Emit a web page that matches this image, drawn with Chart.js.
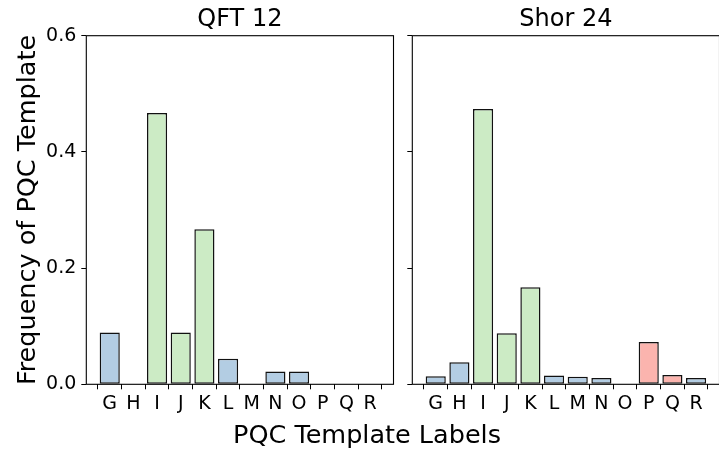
<!DOCTYPE html>
<html>
<head>
<meta charset="utf-8">
<script src="https://cdn.jsdelivr.net/npm/chart.js@4.4.1/dist/chart.umd.min.js"></script>
<style>
  html, body { margin: 0; padding: 0; background: #fff; }
  body { width: 719px; height: 455px; overflow: hidden; position: relative; font-family: 'DejaVu Sans', sans-serif; }
  #qftPanel { position: absolute; left: 0; top: 0; }
  #shorPanel { position: absolute; left: 400px; top: 0; }
  #xlabel { position: absolute; left: 367px; top: 421.5px; transform: translateX(-50%);
            font-size: 25.5px; line-height: 25.5px; white-space: nowrap; color: #000; }
</style>
</head>
<body>
<canvas id="qftPanel" width="400" height="455"></canvas>
<canvas id="shorPanel" width="320" height="455"></canvas>
<div id="xlabel">PQC Template Labels</div>
<script>
// PQC template categories and the colour family of each template
const templateLabels = ['G', 'H', 'I', 'J', 'K', 'L', 'M', 'N', 'O', 'P', 'Q', 'R'];
const templateFamily = ['blue', 'blue', 'green', 'green', 'green', 'blue', 'blue', 'blue', 'blue', 'red', 'red', 'blue'];

// Frequency of each template per benchmark circuit
const qft12Freq  = [0.089, 0, 0.467, 0.089, 0.267, 0.044, 0, 0.022, 0.022, 0, 0, 0];
const shor24Freq = [0.014, 0.038, 0.474, 0.088, 0.167, 0.015, 0.013, 0.011, 0, 0.073, 0.016, 0.011];

// Shared y axis ticks
const yTicks = [0, 0.2, 0.4, 0.6];

const familyColors = { blue: '#b3cde3', green: '#ccebc5', red: '#fbb4ae' };

Chart.defaults.font.family = "'DejaVu Sans', sans-serif";
Chart.defaults.color = '#000';

// Full box outline around each plot area
const frameBox = {
  id: 'frameBox',
  afterDraw(chart) {
    const { ctx, chartArea: a } = chart;
    ctx.save();
    ctx.strokeStyle = '#000';
    ctx.lineWidth = 1.1;
    ctx.strokeRect(a.left, a.top, a.right - a.left, a.bottom - a.top);
    ctx.restore();
  }
};

function makePanel(canvasId, title, values, cfg) {
  const n = templateLabels.length;
  return new Chart(document.getElementById(canvasId), {
    type: 'bar',
    data: {
      datasets: [{
        data: values.map((y, i) => ({ x: i, y })),
        backgroundColor: templateFamily.map(f => familyColors[f]),
        borderColor: '#111',
        borderWidth: 1.5,
        borderSkipped: false,
        barPercentage: 0.85,
        categoryPercentage: 1.0
      }]
    },
    options: {
      responsive: false,
      animation: false,
      devicePixelRatio: 1,
      events: [],
      layout: { padding: { top: 5, left: 0, right: cfg.padRight, bottom: 0 } },
      plugins: {
        legend: { display: false },
        tooltip: { enabled: false },
        title: {
          display: true,
          text: title,
          fullSize: false,
          color: '#000',
          font: { size: 24, weight: 'normal' },
          padding: { top: 0, bottom: 1.9 }
        }
      },
      scales: {
        x: {
          type: 'linear',
          offset: false,
          min: -0.99,
          max: n - 1 + 0.99,
          afterBuildTicks(scale) { scale.ticks = templateLabels.map((_, i) => ({ value: i })); },
          afterFit(scale) { scale.height = 70.7; },
          ticks: {
            autoSkip: false, maxRotation: 0, minRotation: 0,
            padding: 3,
            font: { size: 19 },
            callback: (v) => templateLabels[v]
          },
          grid: { display: true, drawOnChartArea: false, drawTicks: true, tickLength: 5, color: '#000', lineWidth: 1 },
          border: { display: false }
        },
        y: {
          min: 0,
          max: 0.6,
          afterBuildTicks(scale) { scale.ticks = yTicks.map(v => ({ value: v })); },
          afterFit(scale) { scale.width = cfg.yAxisWidth; },
          ticks: {
            padding: 5,
            font: { size: 19 },
            callback: (v) => cfg.showYLabels ? v.toFixed(1) : ''
          },
          grid: { display: true, drawOnChartArea: false, drawTicks: true, tickLength: 5, color: '#000', lineWidth: 1 },
          border: { display: false },
          title: cfg.yTitle ? {
            display: true,
            text: cfg.yTitle,
            font: { size: 25.5 },
            padding: { top: 13.5, bottom: 0 }
          } : { display: false }
        }
      }
    },
    plugins: [frameBox]
  });
}

makePanel('qftPanel', 'QFT 12', qft12Freq,
  { yAxisWidth: 86.3, padRight: 6.5, showYLabels: true, yTitle: 'Frequency of PQC Template' });
makePanel('shorPanel', 'Shor 24', shor24Freq,
  { yAxisWidth: 12.3, padRight: 0.5, showYLabels: false, yTitle: null });
</script>
</body>
</html>
